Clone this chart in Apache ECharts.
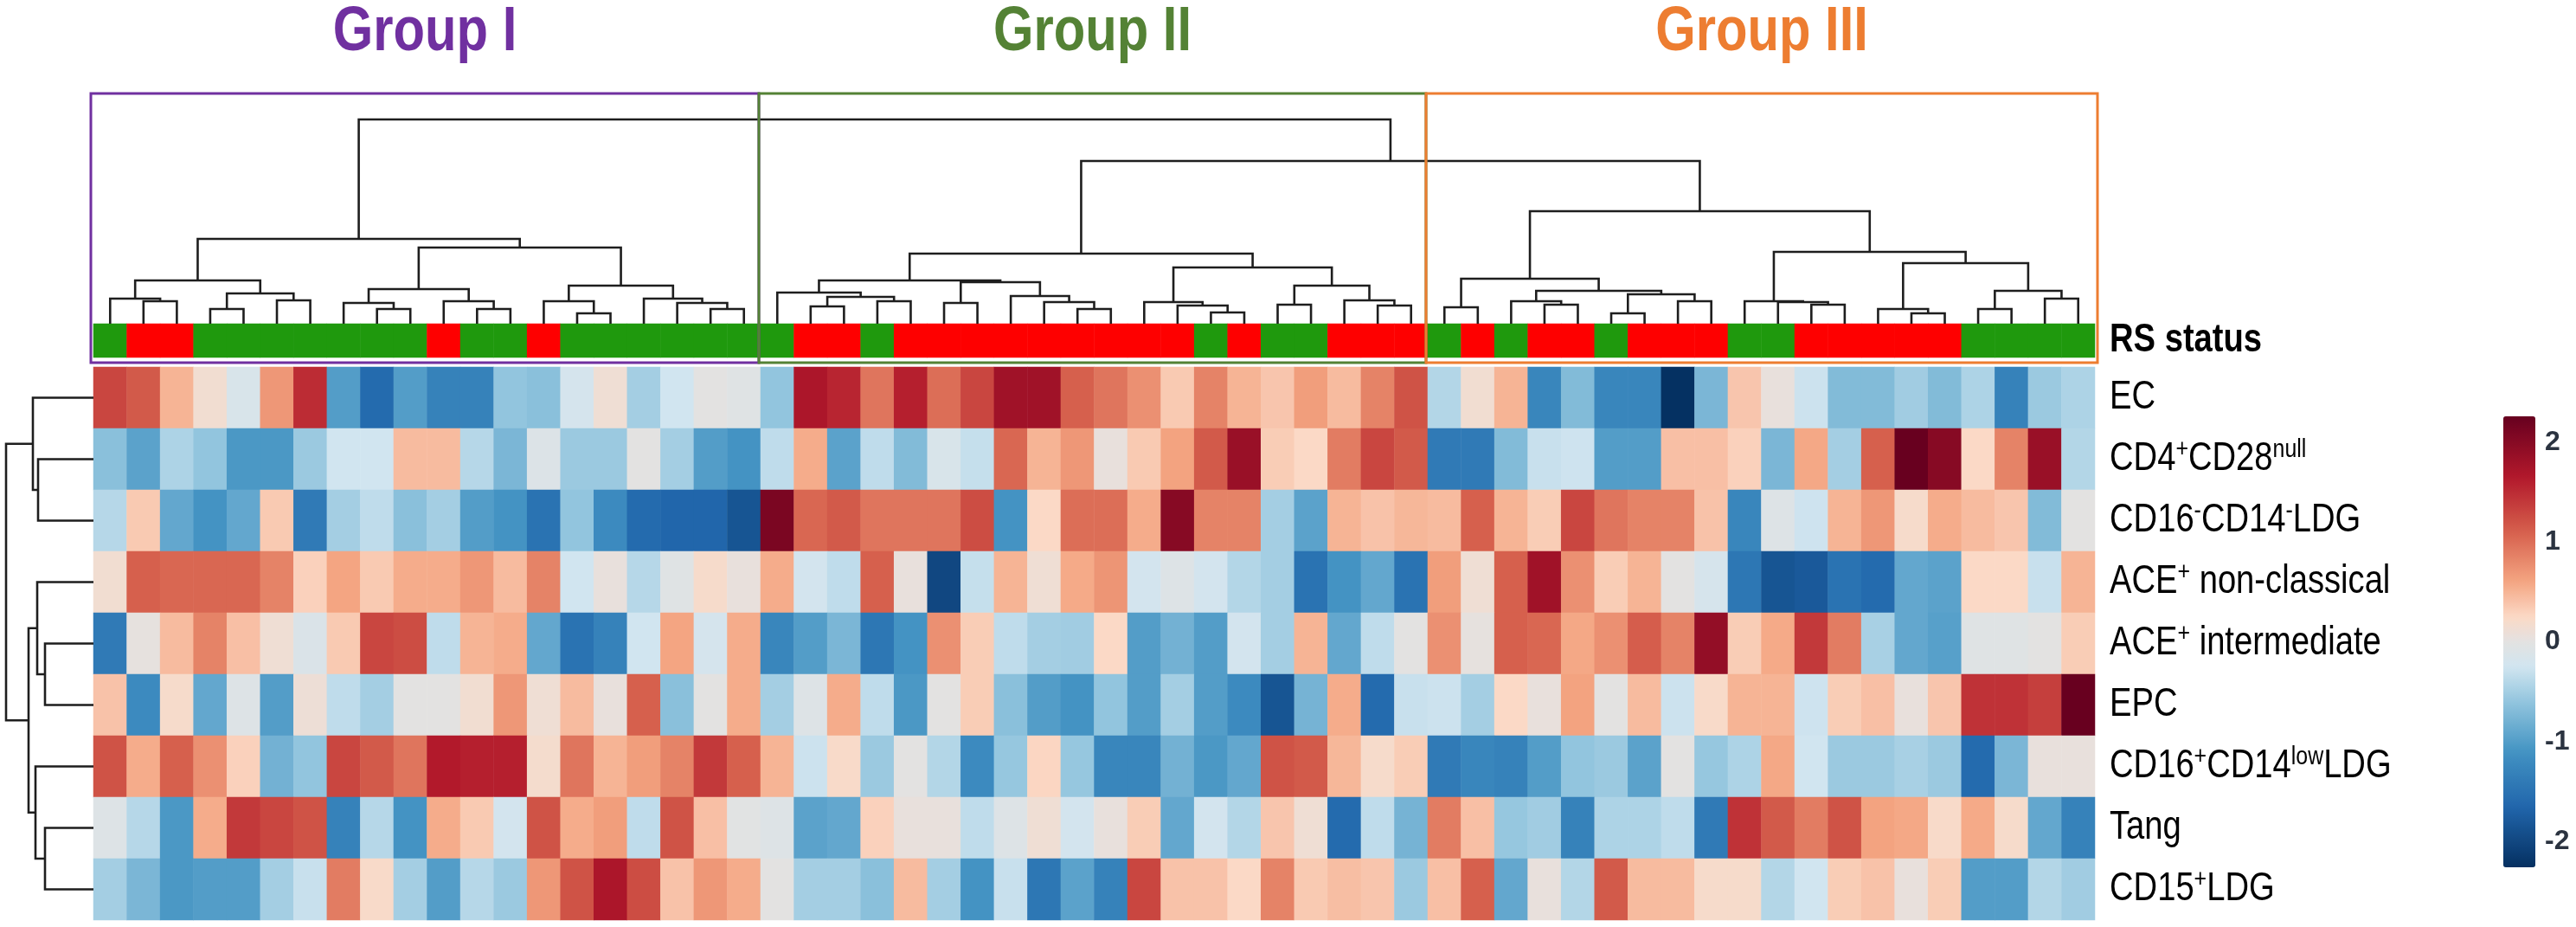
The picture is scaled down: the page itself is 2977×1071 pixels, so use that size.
<!DOCTYPE html>
<html>
<head>
<meta charset="utf-8">
<title>Clustered heatmap - RS status</title>
<script src="https://cdn.jsdelivr.net/npm/echarts@6.0.0/dist/echarts.min.js"></script>
<style>
  html, body { margin: 0; padding: 0; background: #ffffff; }
  #chart { width: 2977px; height: 1071px; }
</style>
</head>
<body>
<div id="chart"></div>
<script>
// ---- data ----
var rowLabels = [
  'EC',
  'CD4{s|+}CD28{s|null}',
  'CD16{s|-}CD14{s|-}LDG',
  'ACE{s|+} non-classical',
  'ACE{s|+} intermediate',
  'EPC',
  'CD16{s|+}CD14{s|low}LDG',
  'Tang',
  'CD15{s|+}LDG'
];

// z-scores per marker, samples in dendrogram order (Group I | Group II | Group III)
var vEC = [1.3, 1.15, 0.5, 0.15, -0.15, 0.7, 1.5, -1.0, -1.6, -1.0, -1.3, -1.3, -0.6, -0.65, -0.2, 0.12, -0.5, -0.25, 0, -0.05,
  -0.6, 1.7, 1.55, 0.95, 1.6, 1.0, 1.3, 1.8, 1.8, 1.1, 0.95, 0.75, 0.35, 0.85, 0.5, 0.38, 0.65, 0.45, 0.85, 1.2,
  -0.42, 0.15, 0.5, -1.25, -0.7, -1.25, -1.25, -2.25, -0.75, 0.38, 0.05, -0.28, -0.7, -0.7, -0.52, -0.7, -0.45, -1.3, -0.55, -0.45];
var vCD4CD28 = [-0.65, -0.95, -0.45, -0.6, -1.05, -1.05, -0.55, -0.25, -0.25, 0.45, 0.45, -0.4, -0.75, -0.1, -0.55, -0.55, 0, -0.5, -1.0, -1.1,
  -0.35, 0.55, -0.95, -0.35, -0.7, -0.15, -0.32, 1.05, 0.5, 0.7, 0.05, 0.35, 0.62, 1.15, 1.85, 0.33, 0.25, 0.9, 1.3, 1.15,
  -1.4, -1.4, -0.7, -0.3, -0.27, -1.0, -1.0, 0.42, 0.42, 0.3, -0.75, 0.58, -0.5, 1.1, 2.25, 2.0, 0.25, 0.85, 1.85, -0.42];
var vCD16neg = [-0.4, 0.35, -0.9, -1.1, -0.9, 0.35, -1.4, -0.5, -0.35, -0.65, -0.5, -1.0, -1.1, -1.5, -0.6, -1.2, -1.6, -1.65, -1.65, -1.85,
  2.1, 1.05, 1.15, 0.95, 0.95, 0.95, 1.25, -1.1, 0.25, 1.0, 1.0, 0.55, 2.0, 0.85, 0.85, -0.5, -0.95, 0.5, 0.4, 0.48,
  0.45, 1.1, 0.5, 0.33, 1.3, 0.95, 0.85, 0.85, 0.4, -1.25, -0.08, -0.27, 0.5, 0.7, 0.2, 0.55, 0.45, 0.38, -0.7, 0];
var vACEnc = [0.15, 1.1, 1.05, 1.05, 1.05, 0.85, 0.3, 0.6, 0.35, 0.55, 0.55, 0.7, 0.45, 0.85, -0.25, 0.05, -0.4, -0.05, 0.2, 0.05,
  0.55, -0.22, -0.35, 1.1, 0.05, -2.0, -0.32, 0.5, 0.12, 0.57, 0.72, -0.22, -0.08, -0.22, -0.42, -0.5, -1.5, -1.1, -0.9, -1.5,
  0.65, 0.12, 1.1, 1.8, 0.75, 0.33, 0.5, 0, -0.18, -1.45, -1.85, -1.8, -1.5, -1.6, -0.9, -0.95, 0.25, 0.25, -0.3, 0.5];
var vACEint = [-1.4, 0.03, 0.45, 0.85, 0.42, 0.12, -0.12, 0.35, 1.3, 1.25, -0.35, 0.5, 0.55, -0.9, -1.5, -1.3, -0.25, 0.6, -0.2, 0.55,
  -1.25, -1.0, -0.75, -1.45, -1.1, 0.75, 0.33, -0.35, -0.5, -0.52, 0.25, -1.0, -0.8, -1.0, -0.22, -0.5, 0.5, -0.9, -0.35, 0,
  0.75, 0.03, 1.1, 1.05, 0.58, 0.75, 1.12, 0.85, 1.9, 0.33, 0.57, 1.4, 0.9, -0.48, -0.9, -0.97, -0.05, -0.05, 0, 0.33];
var vEPC = [0.4, -1.2, 0.2, -0.9, -0.08, -1.0, 0.1, -0.35, -0.5, 0, 0, 0.15, 0.7, 0.12, 0.45, 0.05, 1.1, -0.65, 0, 0.55,
  -0.5, -0.08, 0.55, -0.35, -1.05, 0, 0.33, -0.65, -1.0, -1.1, -0.6, -1.0, -0.5, -1.0, -1.2, -1.85, -0.78, 0.55, -1.6, -0.3,
  -0.28, -0.5, 0.25, 0.05, 0.62, 0, 0.45, -0.28, 0.22, 0.5, 0.5, -0.27, 0.33, 0.42, 0.05, 0.38, 1.45, 1.45, 1.35, 2.25];
var vCD16pos = [1.2, 0.55, 1.1, 0.75, 0.3, -0.8, -0.6, 1.3, 1.15, 0.95, 1.65, 1.6, 1.6, 0.18, 0.95, 0.5, 0.65, 0.85, 1.4, 1.1,
  0.5, -0.28, 0.22, -0.55, 0, -0.42, -1.2, -0.58, 0.27, -0.58, -1.25, -1.25, -0.8, -1.05, -0.9, 1.2, 1.15, 0.48, 0.2, 0.33,
  -1.4, -1.25, -1.3, -1.0, -0.6, -0.55, -0.95, 0, -0.58, -0.45, 0.58, -0.25, -0.55, -0.55, -0.48, -0.55, -1.6, -0.75, 0.05, 0.05];
var vTang = [-0.08, -0.4, -1.05, 0.55, 1.4, 1.3, 1.2, -1.3, -0.4, -1.1, 0.55, 0.35, -0.22, 1.2, 0.55, 0.65, -0.35, 1.2, 0.42, -0.03,
  -0.08, -0.95, -0.9, 0.3, 0.05, 0.05, -0.35, -0.08, 0.12, -0.22, 0.05, 0.33, -0.9, -0.22, -0.42, 0.38, 0.12, -1.6, -0.35, -0.78,
  0.9, 0.42, -0.58, -0.52, -1.3, -0.45, -0.45, -0.35, -1.4, 1.45, 1.15, 0.9, 1.2, 0.62, 0.58, 0.22, 0.57, 0.2, -0.9, -1.3];
var vCD15 = [-0.5, -0.75, -1.05, -1.0, -1.0, -0.5, -0.3, 0.9, 0.22, -0.5, -1.0, -0.4, -0.55, 0.7, 1.2, 1.7, 1.25, 0.4, 0.7, 0.55,
  0, -0.5, -0.5, -0.65, 0.45, -0.5, -1.1, -0.3, -1.45, -0.95, -1.3, 1.3, 0.4, 0.4, 0.25, 0.85, 0.35, 0.43, 0.38, -0.55,
  0.42, 1.1, -0.9, 0.05, -0.42, 1.15, 0.45, 0.45, 0.2, 0.2, -0.42, -0.25, 0.33, 0.4, 0.05, 0.33, -1.0, -1.0, -0.42, -0.52];
var matrix = [vEC, vCD4CD28, vCD16neg, vACEnc, vACEint, vEPC, vCD16pos, vTang, vCD15];

// RS status per sample: G = green, R = red
var rsStatus = ['G','R','R','G','G','G','G','G','G','G','R','G','G','R','G','G','G','G','G','G',
  'G','R','R','G','R','R','R','R','R','R','R','R','R','G','R','G','G','R','R','R',
  'G','R','G','R','R','G','R','R','R','G','G','R','R','R','R','R','G','G','G','G'];
var rsLabel = 'RS status';

// column dendrogram linkage: [a, b, height]; leaves 0..59, merge k creates node 60 + k
var colLinks = [
  [1, 2, 26], [0, 60, 29], [3, 4, 17], [5, 6, 27], [62, 63, 35], [61, 64, 50],
  [8, 9, 17], [7, 66, 24], [11, 12, 17], [10, 68, 26], [67, 69, 40],
  [14, 15, 12], [13, 71, 26], [18, 19, 17], [17, 73, 24], [16, 74, 29], [72, 75, 44],
  [70, 76, 88], [65, 77, 98],
  [21, 22, 20], [23, 24, 26], [79, 80, 31], [20, 81, 36], [25, 26, 24],
  [29, 30, 17], [28, 84, 25], [27, 85, 32], [83, 86, 48], [82, 87, 50],
  [33, 34, 13], [32, 89, 21], [31, 90, 25], [35, 36, 22], [38, 39, 21], [37, 93, 27],
  [92, 94, 44], [91, 95, 65], [88, 96, 81],
  [40, 41, 19], [43, 44, 22], [42, 99, 26], [45, 46, 12], [47, 48, 26], [101, 102, 34],
  [100, 103, 38], [98, 104, 52], [51, 52, 22], [50, 106, 25], [49, 107, 26],
  [54, 55, 12], [53, 109, 17], [56, 57, 17], [58, 59, 29], [111, 112, 38], [110, 113, 70],
  [108, 114, 83], [105, 115, 130],
  [97, 116, 188], [78, 117, 236]
];
var colDendroMax = 236;

// row dendrogram linkage: leaves 0..8, merge k creates node 9 + k
var rowLinks = [
  [1, 2, 64], [0, 9, 70], [4, 5, 56], [3, 11, 65], [7, 8, 56], [6, 13, 67],
  [12, 14, 75], [10, 15, 101]
];
var rowDendroMax = 101;

var groupNames = ['Group I', 'Group II', 'Group III'];
var groupBounds = [0, 20, 40, 60];
var groupColors = ['#7030a0', '#548235', '#ed7d31'];

var colorbarTicks = [-2, -1, 0, 1, 2];
var colorStops = [
  [-2.26, '#053061'], [-1.65, '#2166ac'], [-1.1, '#4393c3'], [-0.6, '#92c5de'],
  [-0.25, '#d1e5f0'], [0, '#e3e2e1'], [0.25, '#fbd9c6'], [0.6, '#f4a582'],
  [1.1, '#d6604d'], [1.65, '#b2182b'], [2.26, '#67001f']
];

// ---- helpers ----
function hexRgb(h) {
  return [parseInt(h.substr(1, 2), 16), parseInt(h.substr(3, 2), 16), parseInt(h.substr(5, 2), 16)];
}
function sampleColors(n) {
  var lo = colorStops[0][0], hi = colorStops[colorStops.length - 1][0];
  var out = [];
  for (var i = 0; i < n; i++) {
    var v = lo + (hi - lo) * i / (n - 1);
    var k = 0;
    while (k < colorStops.length - 2 && v > colorStops[k + 1][0]) k++;
    var a = colorStops[k], b = colorStops[k + 1];
    var t = Math.max(0, Math.min(1, (v - a[0]) / (b[0] - a[0])));
    var ca = hexRgb(a[1]), cb = hexRgb(b[1]);
    out.push('rgb(' + [0, 1, 2].map(function (j) { return Math.round(ca[j] + (cb[j] - ca[j]) * t); }).join(',') + ')');
  }
  return out;
}
function buildDendro(nLeaves, links) {
  var pos = [], hgt = [];
  for (var i = 0; i < nLeaves; i++) { pos.push(i + 0.5); hgt.push(0); }
  return links.map(function (l, k) {
    var a = l[0], b = l[1];
    pos[nLeaves + k] = (pos[a] + pos[b]) / 2;
    hgt[nLeaves + k] = l[2];
    return [pos[a], hgt[a], pos[b], hgt[b], l[2]];
  });
}

var sampleIds = rsStatus.map(function (s, i) { return 'S' + (i + 1); });
var heatData = [];
matrix.forEach(function (row, r) {
  row.forEach(function (v, c) { heatData.push([c, r, v]); });
});
var rsData = rsStatus.map(function (s, c) { return [c, 0, s === 'R' ? 1 : 0]; });
var colDendro = buildDendro(rsStatus.length, colLinks);
var rowDendro = buildDendro(rowLabels.length, rowLinks);

// ---- layout ----
var font = '"Liberation Sans", Arial, sans-serif';
var narrow = 0.83;   // the original uses a condensed face
var hmLeft = 108, hmWidth = 2313, labelX = 2438;
var lineColor = '#1e1e1e';

var chart = echarts.init(document.getElementById('chart'), null, { renderer: 'canvas' });

chart.setOption({
  animation: false,
  backgroundColor: '#ffffff',
  grid: [
    { left: hmLeft, top: 424, width: hmWidth, height: 639 },
    { left: hmLeft, top: 374, width: hmWidth, height: 39 },
    { left: hmLeft, top: 138, width: hmWidth, height: 236 },
    { left: 7, top: 424, width: 101, height: 639 },
    { left: 2893, top: 511, width: 37, height: 461 }
  ],
  xAxis: [
    { type: 'category', gridIndex: 0, data: sampleIds, show: false },
    { type: 'category', gridIndex: 1, data: sampleIds, show: false },
    { type: 'value', gridIndex: 2, min: 0, max: rsStatus.length, show: false },
    { type: 'value', gridIndex: 3, min: 0, max: rowDendroMax, inverse: true, show: false },
    { type: 'category', gridIndex: 4, data: [''], show: false }
  ],
  yAxis: [
    { type: 'category', gridIndex: 0, data: rowLabels, inverse: true, show: false },
    { type: 'category', gridIndex: 1, data: [rsLabel], show: false },
    { type: 'value', gridIndex: 2, min: 0, max: colDendroMax, show: false },
    { type: 'value', gridIndex: 3, min: 0, max: rowLabels.length, inverse: true, show: false },
    {
      type: 'value', gridIndex: 4, min: colorbarTicks[0], max: colorbarTicks[colorbarTicks.length - 1], interval: 1,
      position: 'right',
      axisLine: { show: false }, axisTick: { show: false }, splitLine: { show: false },
      axisLabel: { margin: 11, color: '#2b3340', fontFamily: font, fontSize: 32, fontWeight: 'bold' }
    }
  ],
  visualMap: [
    {
      type: 'continuous', seriesIndex: 0, dimension: 2,
      min: -2.26, max: 2.26, calculable: false, hoverLink: false,
      inRange: { color: sampleColors(91) },
      left: 2893, top: 481, itemWidth: 37, itemHeight: 521, padding: 0,
      orient: 'vertical', text: null
    },
    {
      type: 'piecewise', seriesIndex: 1, dimension: 2, show: false,
      pieces: [{ value: 0, color: '#1f990d' }, { value: 1, color: '#fe0000' }]
    }
  ],
  series: [
    {
      type: 'heatmap', xAxisIndex: 0, yAxisIndex: 0, data: heatData,
      emphasis: { disabled: true }, progressive: 0
    },
    {
      type: 'heatmap', xAxisIndex: 1, yAxisIndex: 1, data: rsData,
      emphasis: { disabled: true }, progressive: 0
    },
    {
      type: 'custom', xAxisIndex: 2, yAxisIndex: 2, data: colDendro, silent: true,
      renderItem: function (params, api) {
        var pts = [
          api.coord([api.value(0), api.value(1)]),
          api.coord([api.value(0), api.value(4)]),
          api.coord([api.value(2), api.value(4)]),
          api.coord([api.value(2), api.value(3)])
        ];
        return { type: 'polyline', shape: { points: pts }, style: { stroke: lineColor, lineWidth: 2.6, fill: null } };
      }
    },
    {
      type: 'custom', xAxisIndex: 3, yAxisIndex: 3, data: rowDendro, silent: true,
      renderItem: function (params, api) {
        var pts = [
          api.coord([api.value(1), api.value(0)]),
          api.coord([api.value(4), api.value(0)]),
          api.coord([api.value(4), api.value(2)]),
          api.coord([api.value(3), api.value(2)])
        ];
        return { type: 'polyline', shape: { points: pts }, style: { stroke: lineColor, lineWidth: 2.6, fill: null } };
      }
    }
  ]
});

// group boxes, titles and row labels, placed from the axes' pixel scale
var edges = groupBounds.map(function (b, i) {
  var px = chart.convertToPixel({ xAxisIndex: 2 }, b);
  if (i === 0) return px - 3;
  if (i === groupBounds.length - 1) return px + 3;
  return px - 2;
});
var graphics = [];
groupNames.forEach(function (name, i) {
  graphics.push({
    type: 'rect', z: 10,
    shape: { x: edges[i], y: 108, width: edges[i + 1] - edges[i], height: 311 },
    style: { stroke: groupColors[i], lineWidth: 3, fill: null }
  });
  graphics.push({
    type: 'text', z: 10,
    x: (edges[i] + edges[i + 1]) / 2, y: 38, scaleX: narrow,
    style: {
      text: name, fill: groupColors[i], font: 'bold 72px ' + font,
      textAlign: 'center', textVerticalAlign: 'middle'
    }
  });
});
var supStyle = { fontSize: 30, fontFamily: font, fill: '#000', verticalAlign: 'top', padding: [0, 0, 22, 0] };
rowLabels.forEach(function (lab, r) {
  graphics.push({
    type: 'text', z: 10,
    x: labelX, y: chart.convertToPixel({ yAxisIndex: 0 }, r), scaleX: narrow,
    style: {
      text: lab, fill: '#000', fontSize: 46, fontFamily: font,
      textAlign: 'left', textVerticalAlign: 'middle', rich: { s: supStyle }
    }
  });
});
graphics.push({
  type: 'text', z: 10,
  x: labelX, y: chart.convertToPixel({ yAxisIndex: 1 }, 0), scaleX: narrow,
  style: {
    text: rsLabel, fill: '#000', font: 'bold 46px ' + font,
    textAlign: 'left', textVerticalAlign: 'middle'
  }
});
chart.setOption({ graphic: graphics });
</script>
</body>
</html>
